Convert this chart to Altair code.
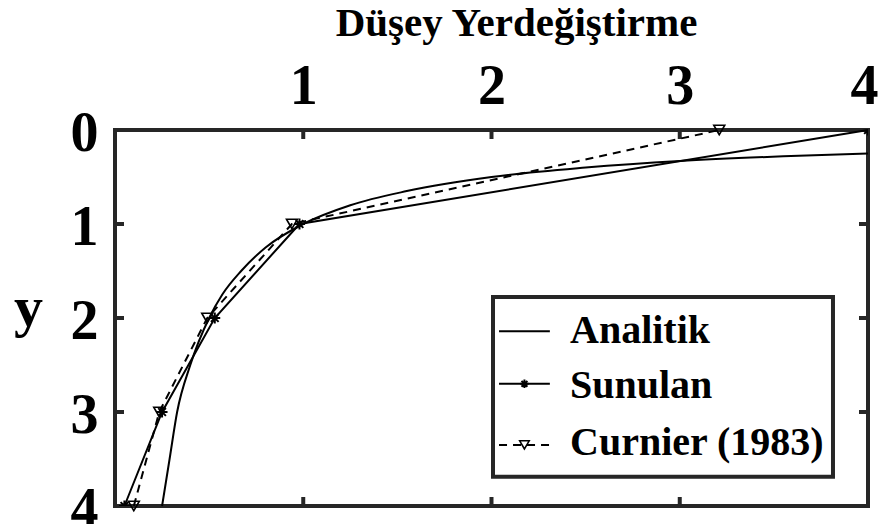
import altair as alt
import pandas as pd

# ---- data ----
analitik_x = [0.25, 0.29, 0.33, 0.40, 0.50, 0.57, 0.67, 0.80, 1.00, 1.25, 1.55, 2.00, 2.50, 3.00, 3.55, 4.00]
analitik_y = [4.00, 3.50, 3.00, 2.50, 2.00, 1.75, 1.50, 1.25, 1.00, 0.80, 0.65, 0.50, 0.40, 0.33, 0.28, 0.25]

sunulan_x = [0.05, 0.25, 0.53, 0.98, 4.00]
sunulan_y = [4, 3, 2, 1, 0]

curnier_x = [0.10, 0.235, 0.49, 0.94, 3.21]
curnier_y = [4, 3, 2, 1, 0]

series_names = ["Analitik", "Sunulan", "Curnier (1983)"]
x_tick_values = [1, 2, 3, 4]
y_tick_values = [0, 1, 2, 3, 4]
inner_ticks = [1, 2, 3]

# ---- layout / style ----
FONT = "Liberation Serif"
W, H = 753, 376
BORDER = "#262626"
STAR = "M-1,0L1,0M0,-1L0,1M-0.7,-0.7L0.7,0.7M-0.7,0.7L0.7,-0.7"
TICK_LEN = 9

df_a = pd.DataFrame({"x": analitik_x, "y": analitik_y})
df_s = pd.DataFrame({"x": sunulan_x, "y": sunulan_y})
df_c = pd.DataFrame({"x": curnier_x, "y": curnier_y})
df_xt = pd.DataFrame({"x": inner_ticks})
df_yt = pd.DataFrame({"y": inner_ticks})

x_scale = alt.Scale(domain=[0, 4], nice=False, zero=False)
y_scale = alt.Scale(domain=[0, 4], nice=False, reverse=True)

X = alt.X("x:Q", scale=x_scale, axis=alt.Axis(
    orient="top", values=x_tick_values, format="d", title="Düşey Yerdeğiştirme",
    labelFont=FONT, labelFontSize=56, labelFontWeight="bold", labelColor="black",
    labelPadding=27, labelBaseline="alphabetic", labelFlush=False,
    labelOffset={"condition": {"test": "datum.value === 4", "value": -4}, "value": 0},
    titleFont=FONT, titleFontSize=41, titleFontWeight="bold", titleColor="black",
    titleX=401, titleY=-95, titleBaseline="alphabetic", titleAlign="center",
    domain=False, ticks=False, grid=False))
Y = alt.Y("y:Q", scale=y_scale, axis=alt.Axis(
    values=y_tick_values, format="d", title="y", titleAngle=0,
    labelFont=FONT, labelFontSize=56, labelFontWeight="bold", labelColor="black",
    labelPadding=17, labelBaseline="middle", labelOffset=3, labelFlush=False,
    titleFont=FONT, titleFontSize=58, titleFontWeight="bold", titleColor="black",
    titleX=-87, titleY=195, titleBaseline="alphabetic", titleAlign="center",
    domain=False, ticks=False, grid=False))

# inward ticks on all four sides
t_top = alt.Chart(df_xt).mark_rule(color=BORDER, strokeWidth=4).encode(
    x=X, y=alt.value(0), y2=alt.value(TICK_LEN))
t_bot = alt.Chart(df_xt).mark_rule(color=BORDER, strokeWidth=4).encode(
    x=X, y=alt.value(H), y2=alt.value(H - TICK_LEN))
t_left = alt.Chart(df_yt).mark_rule(color=BORDER, strokeWidth=4).encode(
    y=Y, x=alt.value(0), x2=alt.value(TICK_LEN))
t_right = alt.Chart(df_yt).mark_rule(color=BORDER, strokeWidth=4).encode(
    y=Y, x=alt.value(W), x2=alt.value(W - TICK_LEN))

line_a = alt.Chart(df_a).mark_line(color="black", strokeWidth=2, interpolate="monotone").encode(x=X, y=Y)
line_s = alt.Chart(df_s).mark_line(color="black", strokeWidth=2).encode(x=X, y=Y)
pts_s = alt.Chart(df_s).mark_point(shape=STAR, filled=False, color="black", strokeWidth=2,
                                   size=120, opacity=1, clip=True).encode(x=X, y=Y)
line_c = alt.Chart(df_c).mark_line(color="black", strokeWidth=2, strokeDash=[8, 6]).encode(x=X, y=Y)
pts_c = alt.Chart(df_c).mark_point(shape="triangle-down", filled=False, color="black", strokeWidth=1.6,
                                   size=120, opacity=1).encode(x=X, y=Y)

# ---- legend (drawn in data units) ----
LB = dict(x=2.008, x2=3.814, y=1.777, y2=3.69)
leg_box = alt.Chart(pd.DataFrame([LB])).mark_rect(fill="white", stroke=BORDER, strokeWidth=4).encode(
    x=X, x2="x2:Q", y=Y, y2="y2:Q")

leg_line_y = [2.14, 2.70, 3.35]
leg_text_y = [2.27, 2.85, 3.46]
df_leg = pd.DataFrame({"name": series_names, "y": leg_line_y, "ty": leg_text_y,
                       "x": [2.04] * 3, "x2": [2.31] * 3, "xm": [2.175] * 3, "xt": [2.417] * 3})

leg_solid = alt.Chart(df_leg.iloc[:2]).mark_rule(color="black", strokeWidth=2).encode(
    x=X, x2="x2:Q", y=Y)
leg_dash = alt.Chart(df_leg.iloc[2:]).mark_rule(color="black", strokeWidth=2, strokeDash=[8, 6]).encode(
    x=X, x2="x2:Q", y=Y)
leg_star = alt.Chart(df_leg.iloc[1:2]).mark_point(shape=STAR, filled=False, color="black", strokeWidth=2,
                                                  size=70, opacity=1).encode(
    x=alt.X("xm:Q", scale=x_scale), y=Y)
leg_tri = alt.Chart(df_leg.iloc[2:]).mark_point(shape="triangle-down", filled=False, color="black",
                                                strokeWidth=1.6, size=90, opacity=1).encode(
    x=alt.X("xm:Q", scale=x_scale), y=Y)
leg_text = alt.Chart(df_leg).mark_text(font=FONT, fontSize=40, fontWeight="bold", color="black",
                                       align="left", baseline="alphabetic").encode(
    x=alt.X("xt:Q", scale=x_scale), y=alt.Y("ty:Q", scale=y_scale), text="name:N")

chart = alt.layer(
    line_a, t_top, t_bot, t_left, t_right,
    line_s, pts_s, line_c, pts_c,
    leg_box, leg_solid, leg_dash, leg_star, leg_tri, leg_text,
).properties(
    width=W, height=H,
    autosize=alt.AutoSizeParams(type="none"),
    padding={"left": 107, "top": 122, "right": 10, "bottom": 18},
    background="white",
).configure_view(stroke=BORDER, strokeWidth=4)

chart.save("out.html", embed_options={"renderer": "svg", "actions": False})
